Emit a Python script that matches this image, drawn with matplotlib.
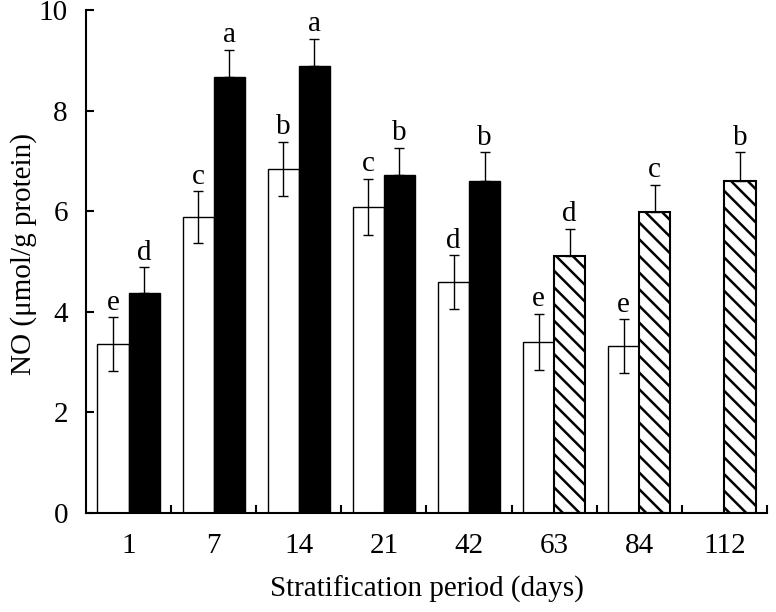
import numpy as np
import matplotlib
matplotlib.use("Agg")
import matplotlib.pyplot as plt

# stratification period (days)
periods = ["1", "7", "14", "21", "42", "63", "84", "112"]

# white bars (first column of each pair); None = not measured
white_vals = [3.36, 5.88, 6.84, 6.08, 4.59, 3.40, 3.32, None]
white_err = [0.53, 0.52, 0.54, 0.56, 0.53, 0.56, 0.53, None]
white_lbl = ["e", "c", "b", "c", "d", "e", "e", None]

# second bar of each pair (black for 1-42, hatched for 63-112)
second_vals = [4.37, 8.67, 8.89, 6.72, 6.60, 5.11, 5.98, 6.60]
second_err = [0.52, 0.54, 0.54, 0.54, 0.57, 0.54, 0.55, 0.57]
second_lbl = ["d", "a", "a", "b", "b", "d", "c", "b"]
second_hatched = [False, False, False, False, False, True, True, True]

plt.rcParams['font.family'] = ['Liberation Serif', 'DejaVu Serif']
plt.rcParams['hatch.linewidth'] = 1.8

fig = plt.figure(figsize=(7.76, 6.12), dpi=100)
ax = fig.add_axes([0.1108, 0.1618, 0.8776, 0.8219])

x = np.arange(len(periods))
w = 0.365
fs = 21

for i in range(len(periods)):
    if white_vals[i] is not None:
        ax.bar(x[i] - w / 2, white_vals[i], w, color="white", edgecolor="black", linewidth=1.0)
        ax.errorbar(x[i] - w / 2, white_vals[i], yerr=white_err[i], color="black",
                    capsize=3.6, elinewidth=1.0, capthick=1.0)
        ax.text(x[i] - w / 2, white_vals[i] + white_err[i] + 0.03, white_lbl[i],
                ha="center", va="bottom", fontsize=fs)
    if second_hatched[i]:
        ax.bar(x[i] + w / 2, second_vals[i], w, color="white", edgecolor="black",
               linewidth=1.5, hatch="\\\\")
    else:
        ax.bar(x[i] + w / 2, second_vals[i], w, color="black", edgecolor="black", linewidth=1.0)
    ax.errorbar(x[i] + w / 2, second_vals[i], yerr=[[0], [second_err[i]]], color="black",
                capsize=3.6, elinewidth=1.0, capthick=1.0)
    ax.text(x[i] + w / 2, second_vals[i] + second_err[i] + 0.03, second_lbl[i],
            ha="center", va="bottom", fontsize=fs)

ax.set_xlim(-0.5, len(periods) - 0.5)
ax.set_ylim(0, 10)
ax.set_yticks([0, 2, 4, 6, 8, 10])
ax.set_xticks(x)
ax.set_xticklabels(periods, fontsize=fs)
ax.set_xticks(np.arange(len(periods)) + 0.5, minor=True)
ax.tick_params(axis="x", which="major", length=0, pad=14.5)
ax.tick_params(axis="x", which="minor", direction="in", length=6, width=1.5)
ax.tick_params(axis="y", direction="in", length=6, width=1.5, labelsize=fs, pad=13)

for s in ["top", "right"]:
    ax.spines[s].set_visible(False)
for s in ["left", "bottom"]:
    ax.spines[s].set_linewidth(1.5)

ax.set_xlabel("Stratification period (days)", fontsize=fs, labelpad=12)
ax.set_ylabel("NO (μmol/g protein)", fontsize=fs)
ax.yaxis.set_label_coords(-0.072, 0.515)

fig.savefig("out.png", dpi=100)
